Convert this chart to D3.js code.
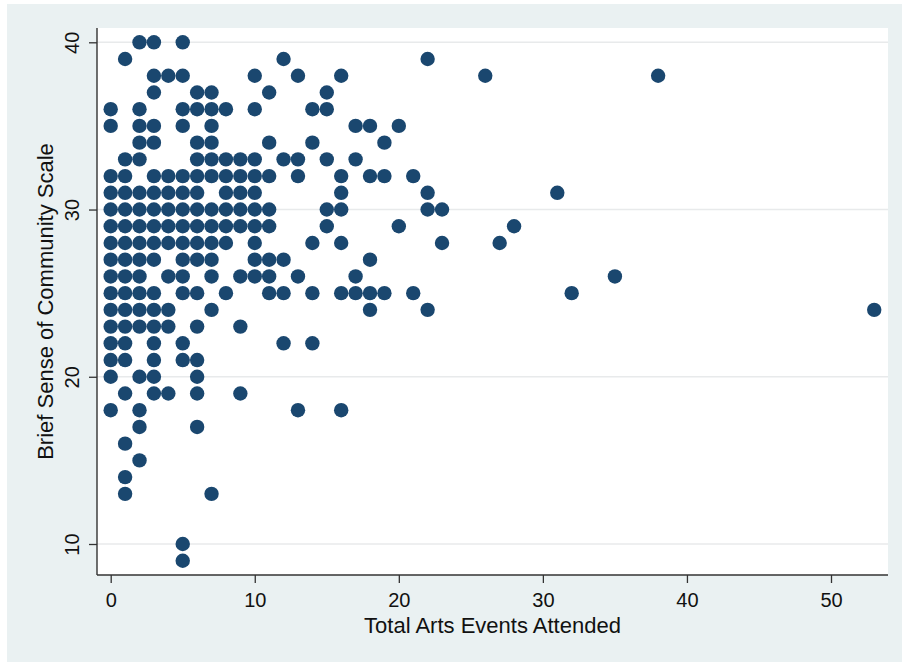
<!DOCTYPE html>
<html>
<head>
<meta charset="utf-8">
<script src="https://cdn.jsdelivr.net/npm/d3@7"></script>
<style>
  body { margin: 0; background: #ffffff; }
  svg { display: block; font-family: "Liberation Sans", Arial, Helvetica, sans-serif; }
</style>
</head>
<body>
<div id="chart"></div>
<script>
// score levels on the y axis, and the events-attended values found at each level
const scoreLevels = [40, 39, 38, 37, 36, 35, 34, 33, 32, 31, 30, 29, 28, 27, 26, 25, 24, 23, 22, 21, 20, 19, 18, 17, 16, 15, 14, 13, 10, 9];
const eventsAtScore = [
    [2, 3, 5],
    [1, 12, 22],
    [3, 4, 5, 10, 13, 16, 26, 38],
    [3, 6, 7, 11, 15],
    [0, 2, 5, 6, 7, 8, 10, 14, 15],
    [0, 2, 3, 5, 7, 17, 18, 20],
    [2, 3, 6, 7, 11, 14, 19],
    [1, 2, 6, 7, 8, 9, 10, 12, 13, 15, 17],
    [0, 1, 3, 4, 5, 6, 7, 8, 9, 10, 11, 13, 16, 18, 19, 21],
    [0, 1, 2, 3, 4, 5, 6, 8, 9, 10, 16, 22, 31],
    [0, 1, 2, 3, 4, 5, 6, 7, 8, 9, 10, 11, 15, 16, 22, 23],
    [0, 1, 2, 3, 4, 5, 6, 7, 8, 9, 10, 11, 15, 20, 28],
    [0, 1, 2, 3, 4, 5, 6, 7, 8, 10, 14, 16, 23, 27],
    [0, 1, 2, 3, 5, 6, 7, 10, 11, 12, 18],
    [0, 1, 2, 4, 5, 7, 9, 10, 11, 13, 17, 35],
    [0, 1, 2, 3, 5, 6, 8, 11, 12, 14, 16, 17, 18, 19, 21, 32],
    [0, 1, 2, 3, 4, 7, 18, 22, 53],
    [0, 1, 2, 3, 4, 6, 9],
    [0, 1, 3, 5, 12, 14],
    [0, 1, 3, 5, 6],
    [0, 2, 3, 6],
    [1, 3, 4, 6, 9],
    [0, 2, 13, 16],
    [2, 6],
    [1],
    [2],
    [1],
    [1, 7],
    [5],
    [5]
];
const xTicks = [0, 10, 20, 30, 40, 50];
const yTicks = [10, 20, 30, 40];
const xTitle = "Total Arts Events Attended";
const yTitle = "Brief Sense of Community Scale";

const width = 902, height = 662;
const plot = {left: 97, right: 888, top: 28, bottom: 575};

let points = [];
scoreLevels.forEach((score, i) => {
    eventsAtScore[i].forEach(ev => points.push({events: ev, score: score}));
});

const svg = d3.select("#chart").append("svg")
    .attr("width", width)
    .attr("height", height);

// graph region + plot region
svg.append("rect")
    .attr("x", 7).attr("y", 4)
    .attr("width", width - 7).attr("height", height - 4)
    .attr("fill", "#eaf1f2");

svg.append("rect")
    .attr("x", plot.left).attr("y", plot.top)
    .attr("width", plot.right - plot.left).attr("height", plot.bottom - plot.top)
    .attr("fill", "#ffffff");

let x = d3.scaleLinear()
    .domain([0, 50])
    .range([110.7, 831]);

let y = d3.scaleLinear()
    .domain([10, 40])
    .range([544, 42.3]);

// gridlines
svg.append("g")
    .selectAll("line")
    .data(yTicks)
    .enter()
    .append("line")
    .attr("x1", plot.left)
    .attr("x2", plot.right)
    .attr("y1", d => y(d))
    .attr("y2", d => y(d))
    .attr("stroke", "#e8eaeb")
    .attr("stroke-width", 1.4);

// dots
svg.append("g")
    .selectAll("circle")
    .data(points)
    .enter()
    .append("circle")
    .attr("cx", d => x(d.events))
    .attr("cy", d => y(d.score))
    .attr("r", 7.2)
    .attr("fill", "#1a476f");

// axes
let xAxis = d3.axisBottom(x).tickValues(xTicks).tickSize(8).tickFormat(d3.format("d"));
let yAxis = d3.axisLeft(y).tickValues(yTicks).tickSize(8).tickFormat(d3.format("d"));

let gx = svg.append("g")
    .attr("class", "x-axis")
    .attr("transform", `translate(0, ${plot.bottom})`)
    .call(xAxis);

let gy = svg.append("g")
    .attr("class", "y-axis")
    .attr("transform", `translate(${plot.left}, 0)`)
    .call(yAxis);

[gx, gy].forEach(g => {
    g.select(".domain").remove();
    g.selectAll(".tick line").attr("stroke", "#333").attr("stroke-width", 1.3);
    g.selectAll(".tick text")
        .attr("fill", "#111")
        .style("font-size", "20px")
        .style("font-family", "'Liberation Sans', Arial, sans-serif");
});

gx.selectAll(".tick text")
    .attr("y", 32)
    .attr("dy", null);

gy.selectAll(".tick text")
    .attr("transform", "rotate(-90)")
    .attr("x", 0)
    .attr("y", -18)
    .attr("dy", null)
    .attr("text-anchor", "middle");

// axis lines span the whole plot region
svg.append("line")
    .attr("x1", plot.left).attr("x2", plot.right)
    .attr("y1", plot.bottom).attr("y2", plot.bottom)
    .attr("stroke", "#333").attr("stroke-width", 1.4);

svg.append("line")
    .attr("x1", plot.left).attr("x2", plot.left)
    .attr("y1", plot.top).attr("y2", plot.bottom)
    .attr("stroke", "#333").attr("stroke-width", 1.4);

// titles
svg.append("text")
    .attr("x", (plot.left + plot.right) / 2)
    .attr("y", 633)
    .attr("text-anchor", "middle")
    .attr("fill", "#111")
    .style("font-size", "22px")
    .text(xTitle);

svg.append("text")
    .attr("transform", `translate(53, ${(plot.top + plot.bottom) / 2}) rotate(-90)`)
    .attr("text-anchor", "middle")
    .attr("fill", "#111")
    .style("font-size", "22px")
    .text(yTitle);
</script>
</body>
</html>
